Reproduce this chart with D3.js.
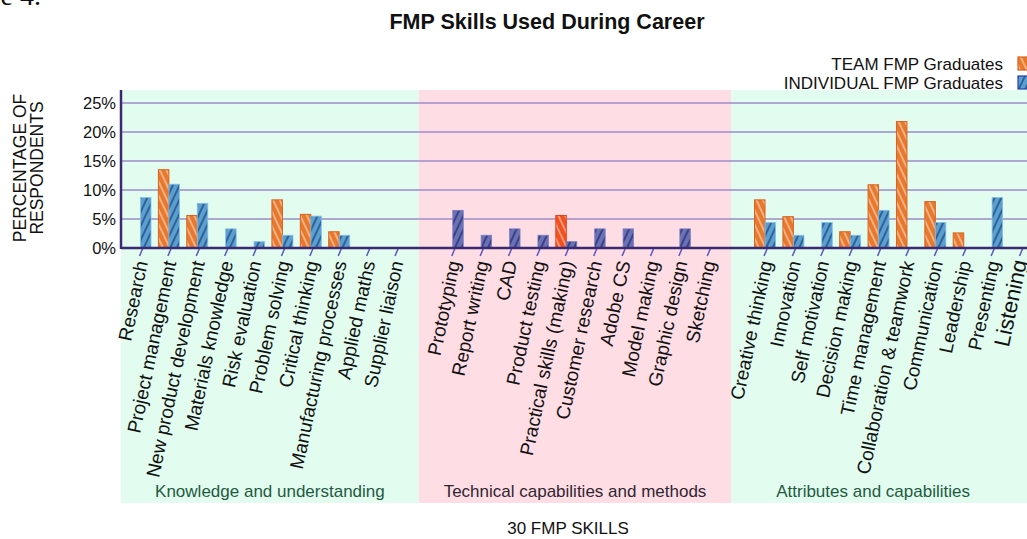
<!DOCTYPE html>
<html><head><meta charset="utf-8">
<script src="https://cdnjs.cloudflare.com/ajax/libs/d3/7.8.5/d3.min.js"></script>
<style>
html,body{margin:0;padding:0;background:#fff;overflow:hidden}
svg{display:block;font-family:"Liberation Sans",Arial,sans-serif}
</style></head>
<body>
<svg id="chart" width="1027" height="539"></svg>
<script>
// ---- data ----
const groupNames = ["Knowledge and understanding","Technical capabilities and methods","Attributes and capabilities"];
const skillsKnowledge = ["Research","Project management","New product development","Materials knowledge","Risk evaluation","Problem solving","Critical thinking","Manufacturing processes","Applied maths","Supplier liaison"];
const skillsTechnical = ["Prototyping","Report writing","CAD","Product testing","Practical skills (making)","Customer research","Adobe CS","Model making","Graphic design","Sketching"];
const skillsAttributes = ["Creative thinking","Innovation","Self motivation","Decision making","Time management","Collaboration & teamwork","Communication","Leadership","Presenting","Listening"];
const teamKnowledge = [0,13.5,5.6,0,0,8.3,5.8,2.8,0,0];
const teamTechnical = [0,0,0,0,5.6,0,0,0,0,0];
const teamAttributes = [8.3,5.4,0,2.8,10.9,21.8,8.0,2.6,0,0];
const indivKnowledge = [8.7,11.0,7.7,3.3,1.1,2.2,5.5,2.2,0,0];
const indivTechnical = [6.5,2.2,3.3,2.2,1.1,3.3,3.3,0,3.3,0];
const indivAttributes = [4.4,2.2,4.4,2.2,6.5,0,4.4,0,8.7,0];
const yTicks = [0,5,10,15,20,25];
const seriesNames = ["TEAM FMP Graduates","INDIVIDUAL FMP Graduates"];

// ---- build ----
const groups = [
  {name:groupNames[0], skills:skillsKnowledge, team:teamKnowledge, indiv:indivKnowledge, bg:"#e2fcef", txt:"#1f5a3f", tone:"g"},
  {name:groupNames[1], skills:skillsTechnical, team:teamTechnical, indiv:indivTechnical, bg:"#ffdde5", txt:"#2e2630", tone:"p"},
  {name:groupNames[2], skills:skillsAttributes, team:teamAttributes, indiv:indivAttributes, bg:"#e2fcef", txt:"#1f5a3f", tone:"g"}
];
const slots = [];
const rows = [];
groups.forEach((g,gi)=>{
  g.skills.forEach((s,i)=>{ slots.push(s); rows.push({skill:s, team:g.team[i], indiv:g.indiv[i], tone:g.tone}); });
  if(gi<groups.length-1) slots.push("__gap"+gi);
});

const svg = d3.select("#chart");
const W=1027, H=539;
const x = d3.scalePoint().domain(slots).range([141,1021]);
const y = d3.scaleLinear().domain([0,25]).range([248,103]);
const sub = d3.scaleBand().domain(["team","indiv"]).range([-11,10]);
const axisX = 121, bandTop = 90, bandBottom = 503;

// patterns
const defs = svg.append("defs");
function pattern(id, base, stripe, dir){
  const p = defs.append("pattern").attr("id",id).attr("patternUnits","userSpaceOnUse")
    .attr("width",6).attr("height",6)
    .attr("patternTransform", dir==="back" ? "rotate(-25)" : "rotate(25)");
  p.append("rect").attr("width",6).attr("height",6).attr("fill",base);
  p.append("rect").attr("x",0).attr("width",2).attr("height",6).attr("fill",stripe);
}
pattern("teamG","#e8782c","#f3b084","back");
pattern("indG","#5a9fd0","#2f6299","fwd");
pattern("teamP","#f2501e","#f89a78","back");
pattern("indP","#6a72b4","#3c4088","fwd");

// background bands
const bounds = [axisX, x("__gap0")-6, x("__gap1")-6, W];
groups.forEach((g,i)=>{
  svg.append("rect").attr("x",bounds[i]).attr("y",bandTop).attr("width",bounds[i+1]-bounds[i]).attr("height",bandBottom-bandTop).attr("fill",g.bg);
  svg.append("text").attr("x",(bounds[i]+bounds[i+1])/2 - (i===2?6:0)).attr("y",497)
    .attr("text-anchor","middle").attr("font-size",17).attr("fill",g.txt).text(g.name);
});

// gridlines
svg.append("g").selectAll("line").data(yTicks.filter(d=>d>0)).join("line")
  .attr("x1",axisX).attr("x2",W).attr("y1",d=>y(d)).attr("y2",d=>y(d))
  .attr("stroke","#9b8dc6").attr("stroke-width",1.5);

// bars
const bars = svg.append("g");
rows.forEach(r=>{
  if(r.team>0) bars.append("rect").attr("x",x(r.skill)+sub("team")).attr("y",y(r.team))
    .attr("width",sub.bandwidth()).attr("height",y(0)-y(r.team))
    .attr("fill", r.tone==="g"?"url(#teamG)":"url(#teamP)")
    .attr("stroke", r.tone==="g"?"#d8621c":"#e8401a").attr("stroke-width",1);
  if(r.indiv>0) bars.append("rect").attr("x",x(r.skill)+sub("indiv")).attr("y",y(r.indiv))
    .attr("width",sub.bandwidth()).attr("height",y(0)-y(r.indiv))
    .attr("fill", r.tone==="g"?"url(#indG)":"url(#indP)")
    .attr("stroke", r.tone==="g"?"#8bbfe2":"#7c80bf").attr("stroke-width",0.8);
});

// x axis
const xa = svg.append("g").attr("transform","translate(0,249)")
  .call(d3.axisBottom(x).tickValues(rows.map(r=>r.skill)).tickSize(7).tickSizeOuter(0));
xa.select(".domain").remove();
xa.selectAll(".tick line").attr("x1",1).attr("x2",-2).attr("stroke","#5a55c0").attr("stroke-width",1.5);
xa.selectAll(".tick text")
  .attr("font-family","Liberation Sans, Arial, sans-serif")
  .attr("font-size",d=>d==="Listening"?22:19).attr("fill","#111")
  .attr("text-anchor","end").attr("dy","0.35em").attr("y",0).attr("x",0)
  .attr("transform",d=>d==="Listening"?"translate(-2,11) rotate(-78)":"translate(0,12) rotate(-78)");
svg.append("line").attr("x1",axisX).attr("x2",W).attr("y1",y(0)).attr("y2",y(0))
  .attr("stroke","#3a2a72").attr("stroke-width",2.5);

// y axis
const ya = svg.append("g").attr("transform",`translate(${axisX},0)`)
  .call(d3.axisLeft(y).tickValues(yTicks).tickFormat(d=>d+"%").tickSize(0).tickPadding(5));
ya.select(".domain").remove();
ya.selectAll(".tick text").attr("font-family","Liberation Sans, Arial, sans-serif").attr("font-size",16.5).attr("fill","#111");
svg.append("line").attr("x1",axisX).attr("x2",axisX).attr("y1",bandTop).attr("y2",y(0)+1)
  .attr("stroke","#3a2a72").attr("stroke-width",2.5);

// y title
const yt = svg.append("text").attr("transform","translate(0,168) rotate(-90)").attr("text-anchor","middle")
  .attr("font-size",17.5).attr("fill","#111");
yt.append("tspan").attr("x",0).attr("y",26).text("PERCENTAGE OF");
yt.append("tspan").attr("x",0).attr("y",43).text("RESPONDENTS");

// title & captions
svg.append("text").attr("x",547).attr("y",29).attr("text-anchor","middle").attr("font-weight","bold")
  .attr("font-size",21.5).attr("fill","#111").text("FMP Skills Used During Career");
svg.append("text").attr("x",568).attr("y",534).attr("text-anchor","middle").attr("font-size",17).attr("fill","#111").text("30 FMP SKILLS");
svg.append("text").attr("x",41).attr("y",5).attr("text-anchor","end").attr("font-family","Liberation Serif, Times New Roman, serif")
  .attr("font-size",28).attr("fill","#111").text("Figure 4.");

// legend
const legFills = ["url(#teamG)","url(#indG)"];
const legStrokes = ["#d8621c","#2440b0"];
seriesNames.forEach((n,i)=>{
  const yy = 70 + i*19;
  svg.append("text").attr("x",1003).attr("y",yy).attr("text-anchor","end").attr("font-size",17).attr("fill","#111").text(n);
  svg.append("rect").attr("x",1018).attr("y",yy-13).attr("width",12).attr("height",13)
    .attr("fill",legFills[i]).attr("stroke",legStrokes[i]).attr("stroke-width",1.2);
});
</script>
</body></html>
